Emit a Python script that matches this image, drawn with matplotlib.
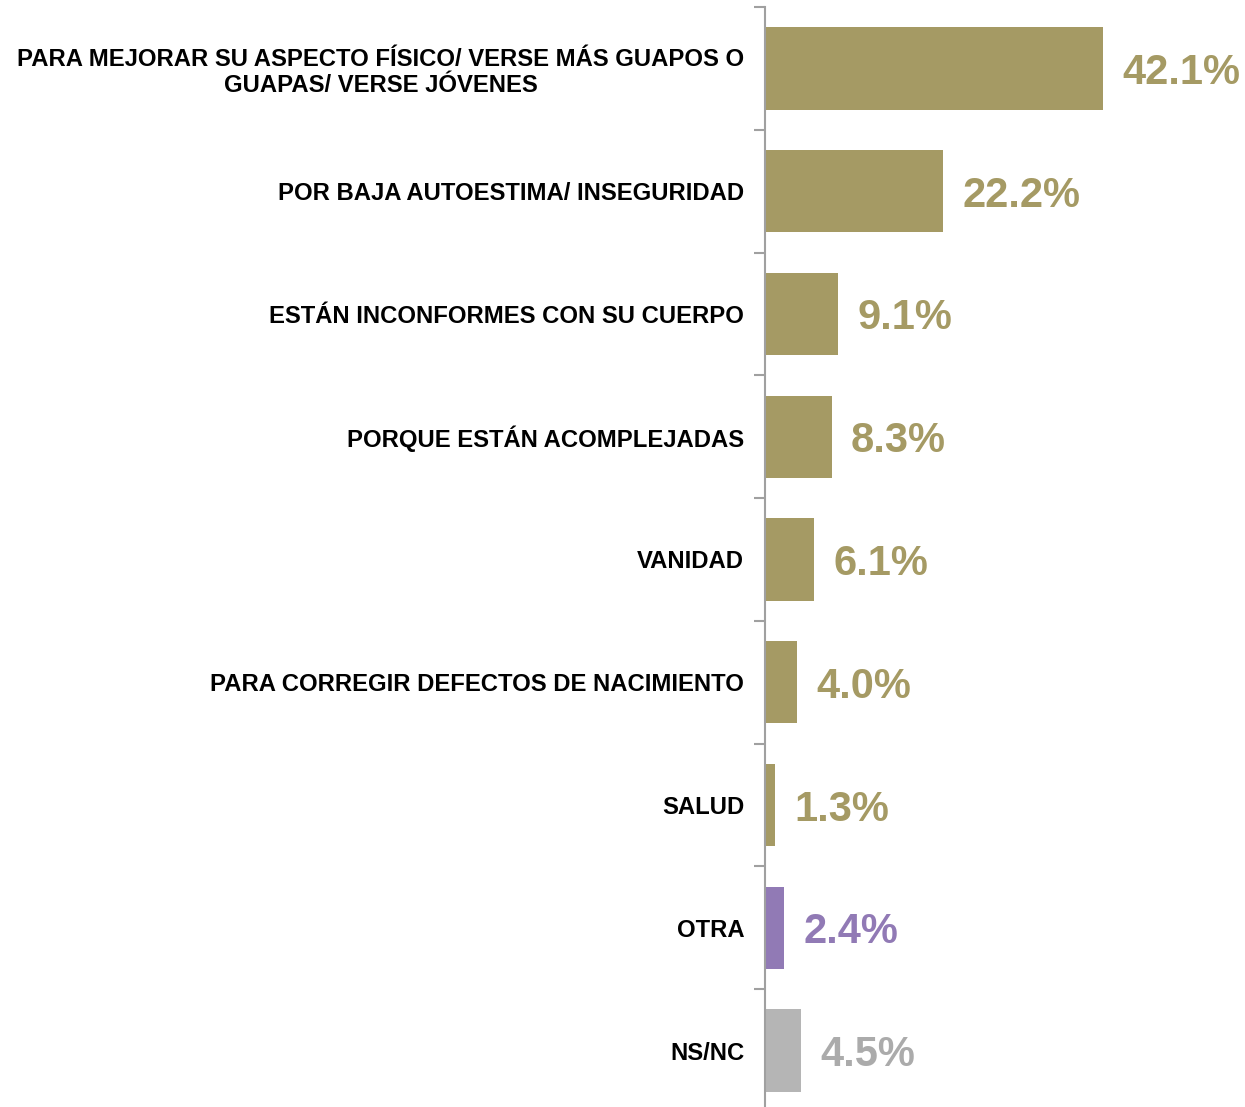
import matplotlib.pyplot as plt
import numpy as np

categories = [
    'PARA MEJORAR SU ASPECTO FÍSICO/ VERSE MÁS GUAPOS O\nGUAPAS/ VERSE JÓVENES',
    'POR BAJA AUTOESTIMA/ INSEGURIDAD',
    'ESTÁN INCONFORMES CON SU CUERPO',
    'PORQUE ESTÁN ACOMPLEJADAS',
    'VANIDAD',
    'PARA CORREGIR DEFECTOS DE NACIMIENTO',
    'SALUD',
    'OTRA',
    'NS/NC',
]
values = [42.1, 22.2, 9.1, 8.3, 6.1, 4.0, 1.3, 2.4, 4.5]
bar_colors = ['#a59a64'] * 7 + ['#917ab5', '#b5b5b5']
text_colors = ['#a59a64'] * 7 + ['#917ab5', '#ababab']

plt.rcParams['font.family'] = ['Liberation Sans', 'DejaVu Sans']

fig = plt.figure(figsize=(12.45, 11.07), dpi=100)

# axes spans a bit past the bottom edge, like the original slide
ax = fig.add_axes([765 / 1245, -5 / 1107, 1 - 765 / 1245, 1105 / 1107])

y = np.arange(len(categories))
ax.barh(y, values, height=0.67, color=bar_colors, zorder=2)

for yi, v, c in zip(y, values, text_colors):
    ax.text(v + 2.4, yi, f'{v:.1f}%', color=c, fontsize=30, fontweight='bold',
            va='center_baseline', ha='left')

ax.set_ylim(len(categories) - 0.5, -0.5)
ax.set_xlim(0, 59.8)

ax.set_yticks(y)
ax.set_yticklabels(categories, fontsize=17.2, fontweight='bold', multialignment='center')
ax.tick_params(axis='y', which='major', length=0, pad=15)
ax.set_yticks(np.arange(-0.5, len(categories), 1), minor=True)
ax.tick_params(axis='y', which='minor', length=8, width=1.5, color='#a0a0a0', direction='out')

ax.set_xticks([])
for s in ['top', 'right', 'bottom']:
    ax.spines[s].set_visible(False)
ax.spines['left'].set_color('#a0a0a0')
ax.spines['left'].set_linewidth(1.5)

fig.savefig('out.png', dpi=100)
